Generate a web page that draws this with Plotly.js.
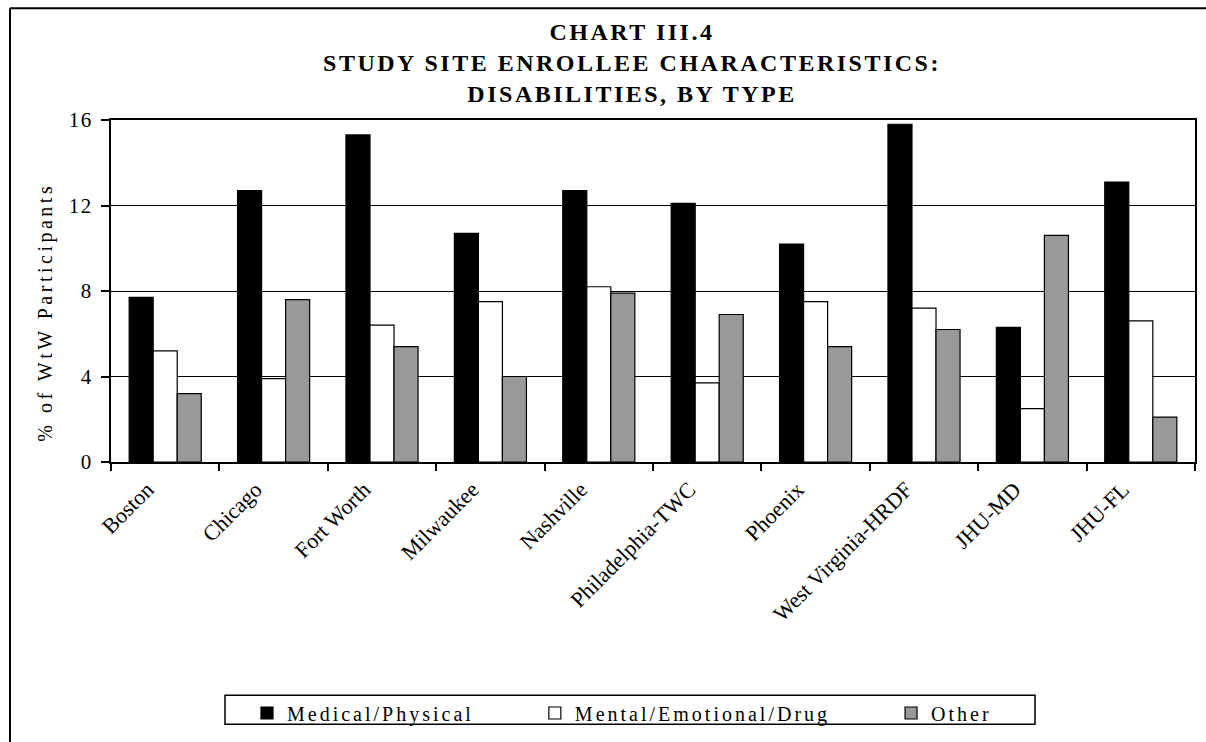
<!DOCTYPE html>
<html>
<head>
<meta charset="utf-8">
<script src="https://cdn.plot.ly/plotly-3.0.1.min.js"></script>
<style>
  html, body { margin: 0; padding: 0; background: #fff; }
  #chart { width: 1206px; height: 742px; }
  .gtitle { letter-spacing: 2.5px; }
  .ytitle { letter-spacing: 3.5px; }
  .ytick text { letter-spacing: 1.5px; }
  .legendtext { letter-spacing: 3px; }
</style>
</head>
<body>
<div id="chart"></div>
<script>
// ---- data ----
const sites = ["Boston", "Chicago", "Fort Worth", "Milwaukee", "Nashville",
               "Philadelphia-TWC", "Phoenix", "West Virginia-HRDF", "JHU-MD", "JHU-FL"];
const medicalPhysical = [7.7, 12.7, 15.3, 10.7, 12.7, 12.1, 10.2, 15.8, 6.3, 13.1];
const mentalEmotionalDrug = [5.2, 3.9, 6.4, 7.5, 8.2, 3.7, 7.5, 7.2, 2.5, 6.6];
const other = [3.2, 7.6, 5.4, 4.0, 7.9, 6.9, 5.4, 6.2, 10.6, 2.1];
const seriesNames = ["Medical/Physical", "Mental/Emotional/Drug", "Other"];
const yTickValues = [0, 4, 8, 12, 16];
const chartTitle = "CHART III.4<br>STUDY SITE ENROLLEE CHARACTERISTICS:<br>DISABILITIES, BY TYPE";
const yAxisTitle = "% of WtW Participants";

const serif = "'Liberation Serif', 'Times New Roman', Times, serif";
const pad = '&nbsp;'.repeat(7);

function barTrace(values, color, label) {
  return {
    type: 'bar', name: label, x: sites, y: values,
    marker: { color: color, line: { color: '#000000', width: 1.2 } },
    hoverinfo: 'x+y'
  };
}

const traces = [
  barTrace(medicalPhysical, '#000000', seriesNames[0] + pad),
  barTrace(mentalEmotionalDrug, '#ffffff', seriesNames[1] + pad),
  barTrace(other, '#999999', seriesNames[2])
];

const layout = {
  width: 1206, height: 742,
  margin: { l: 111, r: 11, t: 120, b: 279, pad: 0 },
  paper_bgcolor: '#ffffff', plot_bgcolor: '#ffffff',
  font: { family: serif, color: '#000000', size: 20 },
  barmode: 'group', bargap: 0.335, bargroupgap: 0,
  title: {
    text: chartTitle,
    font: { family: serif, size: 24, color: '#000000', weight: 'bold' },
    x: 632 / 1206, xref: 'container', xanchor: 'center',
    y: 1 - 40 / 742, yref: 'container', yanchor: 'middle'
  },
  xaxis: {
    type: 'category', tickson: 'boundaries',
    ticks: 'outside', ticklen: 7, tickwidth: 1.5, tickcolor: '#000000',
    showline: true, linecolor: '#000000', linewidth: 2, mirror: true,
    showgrid: false, zeroline: false,
    tickangle: -45,
    ticklabelshift: -18, ticklabelstandoff: 4,
    tickfont: { family: serif, size: 22, color: '#000000' },
    automargin: false
  },
  yaxis: {
    range: [0, 16], tickvals: yTickValues,
    ticks: 'outside', ticklen: 8, tickwidth: 1.5, tickcolor: '#000000',
    showline: true, linecolor: '#000000', linewidth: 2, mirror: true,
    showgrid: true, gridcolor: '#000000', gridwidth: 1,
    zeroline: false,
    tickfont: { family: serif, size: 21, color: '#000000' },
    ticklabelstandoff: 4,
    title: { text: yAxisTitle + '&nbsp;'.repeat(5), font: { family: serif, size: 20, color: '#000000' }, standoff: 11 },
    automargin: false
  },
  showlegend: true,
  legend: {
    orientation: 'h', traceorder: 'normal',
    x: (247 - 111) / 1084, xanchor: 'left',
    y: (463 - 713) / 343, yanchor: 'middle',
    bgcolor: 'rgba(0,0,0,0)', borderwidth: 0,
    font: { family: serif, size: 20, color: '#000000' }
  },
  shapes: [
    // legend frame
    { type: 'rect', xref: 'paper', yref: 'paper',
      x0: (225 - 111) / 1084, x1: (1035 - 111) / 1084,
      y0: (463 - 726) / 343, y1: (463 - 697) / 343,
      line: { color: '#000000', width: 1.5 }, fillcolor: 'rgba(0,0,0,0)' },
    // outer frame (left and top edges)
    { type: 'line', xref: 'paper', yref: 'paper',
      x0: (10 - 111) / 1084, x1: (10 - 111) / 1084,
      y0: (463 - 745) / 343, y1: (463 - 8) / 343,
      line: { color: '#000000', width: 2 } },
    { type: 'line', xref: 'paper', yref: 'paper',
      x0: (10 - 111) / 1084, x1: (1210 - 111) / 1084,
      y0: (463 - 8) / 343, y1: (463 - 8) / 343,
      line: { color: '#000000', width: 2 } }
  ]
};

Plotly.newPlot('chart', traces, layout, { displayModeBar: false });
</script>
</body>
</html>
